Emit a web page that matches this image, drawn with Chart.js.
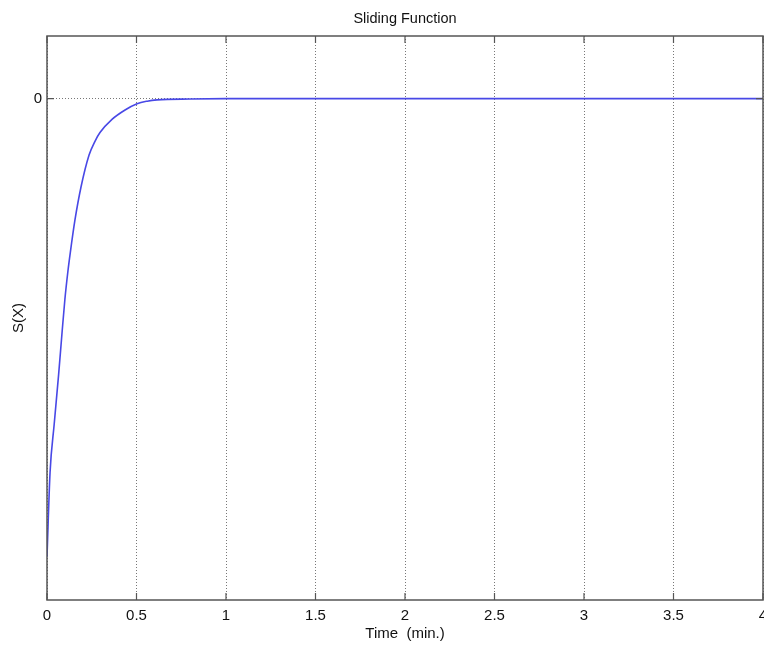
<!DOCTYPE html>
<html lang="en">
<head>
    <meta charset="UTF-8" />
    <title>Sliding Function</title>
    <script src="https://cdn.jsdelivr.net/npm/chart.js"></script>
    <style>
        html, body {
            margin: 0;
            padding: 0;
            background: #fff;
        }
        #wrap {
            width: 764px;
            height: 645px;
        }
    </style>
</head>
<body>
    <div id="wrap"><canvas id="myChart"></canvas></div>

    <script>
        // values
        const timeMin = [0, 0.017, 0.04, 0.065, 0.085, 0.10, 0.117, 0.13, 0.156, 0.19, 0.235, 0.268, 0.296, 0.363, 0.436, 0.503, 0.56, 0.615, 0.8, 1.0, 4.0];
        const sValues = [-7.31, -5.97, -5.2, -4.4, -3.7, -3.2, -2.75, -2.46, -1.94, -1.41, -0.9, -0.68, -0.54, -0.33, -0.18, -0.08, -0.04, -0.02, -0.005, 0, 0];
        const xTicks = [0, 0.5, 1, 1.5, 2, 2.5, 3, 3.5, 4];
        const yTicks = [0];

        const points = timeMin.map((t, i) => ({ x: t, y: sValues[i] }));
        const font = { family: 'Liberation Sans, Arial, sans-serif', size: 15 };

        // centre the title over the plot area, not the whole canvas
        const titleOverPlot = {
            id: 'titleOverPlot',
            afterLayout(chart) {
                if (chart.titleBlock) {
                    chart.titleBlock.left = chart.chartArea.left;
                    chart.titleBlock.right = chart.chartArea.right;
                }
            }
        };

        // box round the plot plus small inward tick marks (matlab style)
        const boxPlugin = {
            id: 'box',
            afterDatasetsDraw(chart) {
                const { ctx, chartArea: a, scales } = chart;
                ctx.save();
                ctx.strokeStyle = '#555';
                ctx.lineWidth = 1.5;
                ctx.strokeRect(a.left, a.top, a.right - a.left, a.bottom - a.top);
                ctx.lineWidth = 1.2;
                ctx.beginPath();
                xTicks.forEach(v => {
                    const px = scales.x.getPixelForValue(v);
                    ctx.moveTo(px, a.bottom); ctx.lineTo(px, a.bottom - 7);
                    ctx.moveTo(px, a.top); ctx.lineTo(px, a.top + 7);
                });
                yTicks.forEach(v => {
                    const py = scales.y.getPixelForValue(v);
                    ctx.moveTo(a.left, py); ctx.lineTo(a.left + 7, py);
                    ctx.moveTo(a.right, py); ctx.lineTo(a.right - 7, py);
                });
                ctx.stroke();
                ctx.restore();
            }
        };

        const ctx = document.getElementById('myChart').getContext('2d');
        new Chart(ctx, {
            type: 'scatter',
            data: {
                datasets: [{
                    data: points,
                    showLine: true,
                    borderColor: '#4848e6',
                    borderWidth: 1.6,
                    pointRadius: 0,
                    cubicInterpolationMode: 'monotone',
                    fill: false
                }]
            },
            plugins: [titleOverPlot, boxPlugin],
            options: {
                responsive: true,
                maintainAspectRatio: false,
                animation: false,
                layout: { padding: { left: 0, right: 1, top: 0, bottom: 0 } },
                plugins: {
                    legend: { display: false },
                    tooltip: { enabled: false },
                    title: {
                        display: true,
                        text: 'Sliding Function',
                        color: '#111',
                        font: { family: 'Liberation Sans, Arial, sans-serif', size: 14.5, weight: 'normal' },
                        padding: { top: 10, bottom: 8.6 }
                    }
                },
                scales: {
                    x: {
                        type: 'linear',
                        min: 0,
                        max: 4,
                        afterBuildTicks: s => { s.ticks = xTicks.map(v => ({ value: v })); },
                        afterFit: s => {
                            s.height = 45;
                            s.paddingLeft = 0;
                            s.paddingRight = 0;
                        },
                        ticks: {
                            color: '#111',
                            padding: 7,
                            maxRotation: 0,
                            font: font,
                            callback: v => String(v)
                        },
                        grid: {
                            drawTicks: false,
                            color: '#777',
                            lineWidth: 1
                        },
                        border: { display: false, dash: [1, 2] },
                        title: {
                            display: true,
                            text: 'Time  (min.)',
                            color: '#111',
                            font: font,
                            padding: { top: 0, bottom: 2 }
                        }
                    },
                    y: {
                        type: 'linear',
                        min: -8,
                        max: 1,
                        afterBuildTicks: s => { s.ticks = yTicks.map(v => ({ value: v })); },
                        afterFit: s => { s.width = 47; },
                        ticks: {
                            color: '#111',
                            padding: 5,
                            font: font,
                            callback: v => String(v)
                        },
                        grid: {
                            drawTicks: false,
                            color: '#777',
                            lineWidth: 1
                        },
                        border: { display: false, dash: [1, 2] },
                        title: {
                            display: true,
                            text: 'S(X)',
                            color: '#111',
                            font: font,
                            padding: { top: 10, bottom: 0 }
                        }
                    }
                }
            }
        });
    </script>
</body>
</html>
